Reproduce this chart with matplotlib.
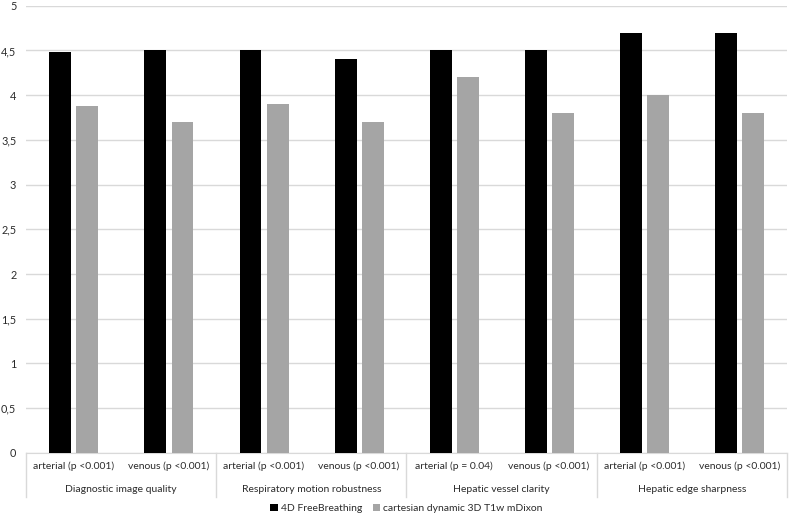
import matplotlib.pyplot as plt
import numpy as np

plt.rcParams['font.family'] = ['Lato', 'DejaVu Sans']

groups = ["Diagnostic image quality", "Respiratory motion robustness",
          "Hepatic vessel clarity", "Hepatic edge sharpness"]
phases = ["arterial (p <0.001)", "venous (p <0.001)",
          "arterial (p <0.001)", "venous (p <0.001)",
          "arterial (p = 0.04)", "venous (p <0.001)",
          "arterial (p <0.001)", "venous (p <0.001)"]
free_breathing = [4.48, 4.5, 4.5, 4.4, 4.5, 4.5, 4.7, 4.7]
cartesian = [3.88, 3.7, 3.9, 3.7, 4.2, 3.8, 4.0, 3.8]
series_names = ["4D FreeBreathing", "cartesian dynamic 3D T1w mDixon"]
yticks = [0, 0.5, 1, 1.5, 2, 2.5, 3, 3.5, 4, 4.5, 5]

txt = "#2b2b2b"
grid = "#d9d9d9"
fs = 7.5

fig = plt.figure(figsize=(7.9, 5.23), dpi=100)
ax = fig.add_axes([0.033, 0.134, 0.963, 0.855])

x = np.arange(len(phases))
w = 0.23
ax.bar(x - 0.14, free_breathing, w, color="black", label=series_names[0], zorder=3)
ax.bar(x + 0.145, cartesian, w, color="#a5a5a5", label=series_names[1], zorder=3)

ax.set_xlim(-0.5, len(phases) - 0.5)
ax.set_ylim(0, 5)
ax.set_yticks(yticks)
ax.set_yticklabels([f"{t:g}".replace(".", ",") for t in yticks], color=txt, fontsize=fs + 0.3)
ax.tick_params(axis="y", length=0, pad=7)
ax.set_xticks([])
ax.grid(axis="y", color=grid, linewidth=1, zorder=0)
for s in ["top", "right", "left"]:
    ax.spines[s].set_visible(False)
ax.spines["bottom"].set_color(grid)

# two-level category axis
for i, lab in enumerate(phases):
    ax.text(i, -0.15, lab, ha="center", va="center", fontsize=fs, color=txt,
            clip_on=False)
for g, name in enumerate(groups):
    ax.text(2 * g + 0.5, -0.41, name, ha="center", va="center", fontsize=fs,
            color=txt, clip_on=False)
for b in range(0, len(phases) + 1, 2):
    ax.plot([b - 0.5, b - 0.5], [0, -0.49], color=grid, linewidth=1, clip_on=False)

ax.legend(loc="center", bbox_to_anchor=(0.5, -0.124), ncol=2, frameon=False,
          fontsize=fs, handlelength=0.7, handleheight=0.7, columnspacing=1.0,
          handletextpad=0.3, labelcolor=txt)

fig.savefig("out.png", dpi=100)
